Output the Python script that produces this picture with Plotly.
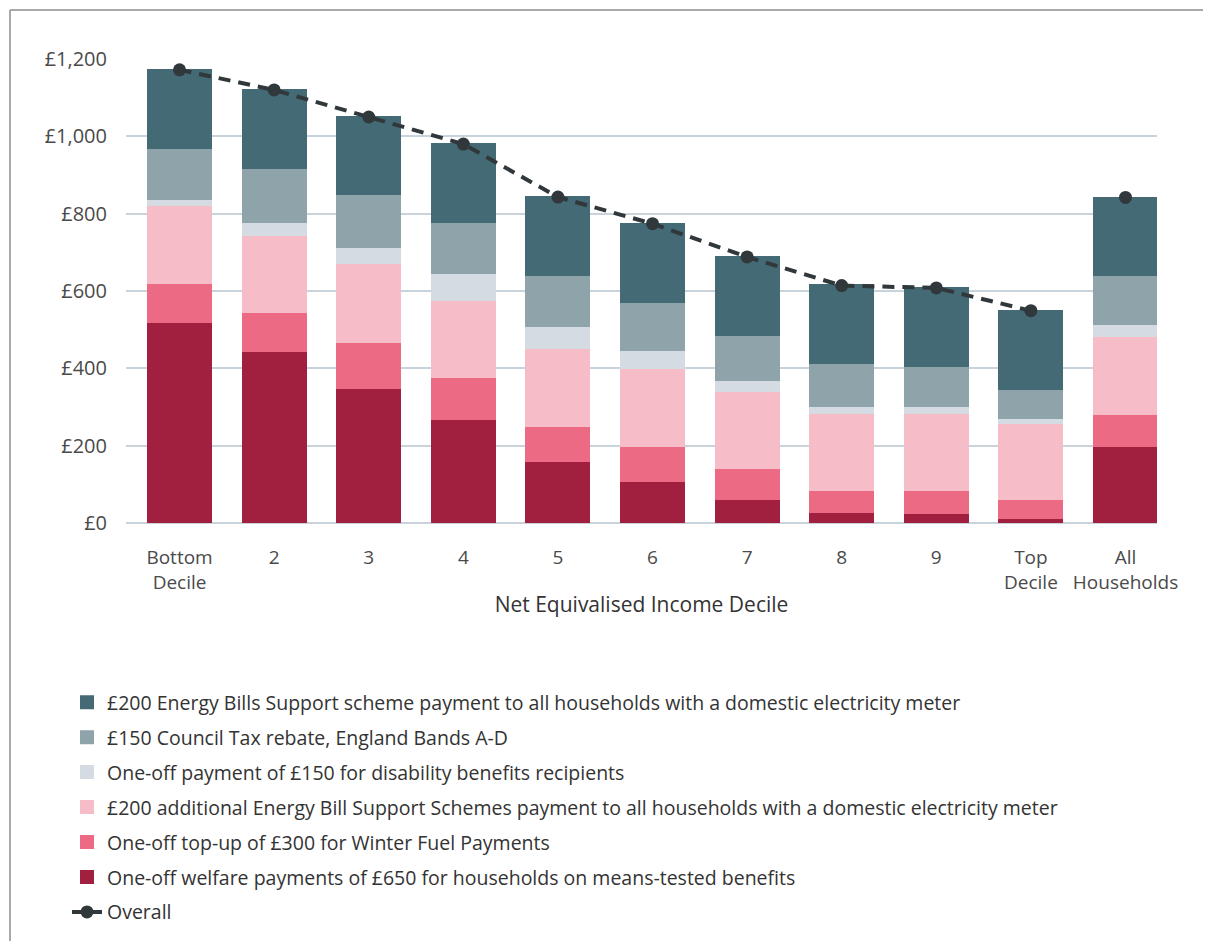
import plotly.graph_objects as go

categories = ["Bottom<br>Decile", "2", "3", "4", "5", "6", "7", "8", "9", "Top<br>Decile", "All<br>Households"]

welfare_650 = [520, 445, 350, 270, 161, 109, 63, 29, 27, 14, 200]
winter_fuel_300 = [101, 101, 119, 108, 91, 91, 80, 57, 59, 49, 83]
additional_ebss_200 = [202, 199, 204, 199, 201, 201, 199, 199, 199, 196, 201]
disability_150 = [15, 34, 41, 70, 57, 47, 28, 18, 18, 13, 31]
council_tax_150 = [132, 139, 137, 132, 132, 124, 117, 111, 104, 75, 127]
ebss_200 = [202, 202, 199, 201, 201, 202, 201, 202, 201, 202, 199]
overall = [1172, 1120, 1050, 980, 843, 774, 688, 614, 608, 549, 842]

y_ticks = [0, 200, 400, 600, 800, 1000, 1200]
y_tick_labels = ["£0", "£200", "£400", "£600", "£800", "£1,000", "£1,200"]

# (name, values, colour, legend rank) listed bottom-of-stack first
series = [
    ("One-off welfare payments of £650 for households on means-tested benefits", welfare_650, "#A12040", 6),
    ("One-off top-up of £300 for Winter Fuel Payments", winter_fuel_300, "#EC6A83", 5),
    ("£200 additional Energy Bill Support Schemes payment to all households with a domestic electricity meter", additional_ebss_200, "#F6BDC9", 4),
    ("One-off payment of £150 for disability benefits recipients", disability_150, "#D4DBE2", 3),
    ("£150 Council Tax rebate, England Bands A-D", council_tax_150, "#8FA3AA", 2),
    ("£200 Energy Bills Support scheme payment to all households with a domestic electricity meter", ebss_200, "#446A75", 1),
]

FONT = "Open Sans"
fig = go.Figure()

for name, vals, color, rank in series:
    fig.add_trace(go.Bar(
        x=categories, y=vals, name=name,
        marker=dict(color=color, line=dict(width=2, color=color)),
        legendgroup=name, legendrank=rank,
    ))

fig.add_trace(go.Scatter(
    x=categories[:10], y=overall[:10], mode="lines+markers", name="Overall",
    line=dict(color="#30383B", width=4, dash="12px,8px"),
    marker=dict(color="#30383B", size=13),
    legendgroup="overall", legendrank=7,
))
fig.add_trace(go.Scatter(
    x=categories[10:], y=overall[10:], mode="markers", name="Overall",
    marker=dict(color="#30383B", size=13),
    legendgroup="overall", legendrank=7, showlegend=False,
))

# page body has an 8px margin: target window coords are shifted by OFF
OFF = 8
W, H = 1211 - OFF, 941 - OFF
L, T = 126 - OFF, 59 - OFF
R = 1211 - 1157
B = 941 - 523
pw, ph = W - L - R, H - T - B

def px(xw):
    return (xw - OFF - L) / pw

def py(yw):
    return (H - B - (yw - OFF)) / ph

fig.update_layout(
    width=W, height=H,
    margin=dict(l=L, r=R, t=T, b=B, autoexpand=False),
    barmode="stack", bargap=0.334,
    plot_bgcolor="white", paper_bgcolor="white",
    font=dict(family=FONT, size=18, color="#3a3a3a"),
    legend=dict(
        traceorder="grouped", tracegroupgap=6.6,
        x=px(67), xanchor="left", y=py(683), yanchor="top",
        font=dict(family=FONT, size=19.5, color="#333333"),
        bgcolor="rgba(0,0,0,0)", borderwidth=0,
    ),
    xaxis=dict(
        range=[-0.566, 10.333], showgrid=False, zeroline=False, showline=False,
        ticks="", tickfont=dict(family=FONT, size=19, color="#4a4a4a"),
        ticklabelstandoff=21,
        title=dict(text="Net Equivalised Income Decile", font=dict(family=FONT, size=21, color="#333333"), standoff=3),
    ),
    yaxis=dict(
        range=[0, 1200], tickvals=y_ticks, ticktext=y_tick_labels,
        showgrid=True, gridcolor="#C9D3DC", gridwidth=2,
        zeroline=True, zerolinecolor="#C9D3DC", zerolinewidth=2, showline=False,
        ticks="", tickfont=dict(family=FONT, size=20, color="#4a4a4a"),
        ticklabelstandoff=18,
    ),
    shapes=[
        dict(type="line", xref="paper", yref="paper", x0=px(10), x1=px(10), y0=py(10), y1=py(941),
             line=dict(color="#8C8C8C", width=1.5)),
        dict(type="line", xref="paper", yref="paper", x0=px(10), x1=px(1211), y0=py(10), y1=py(10),
             line=dict(color="#8C8C8C", width=1.5)),
    ],
)

fig.write_html("out.html")
